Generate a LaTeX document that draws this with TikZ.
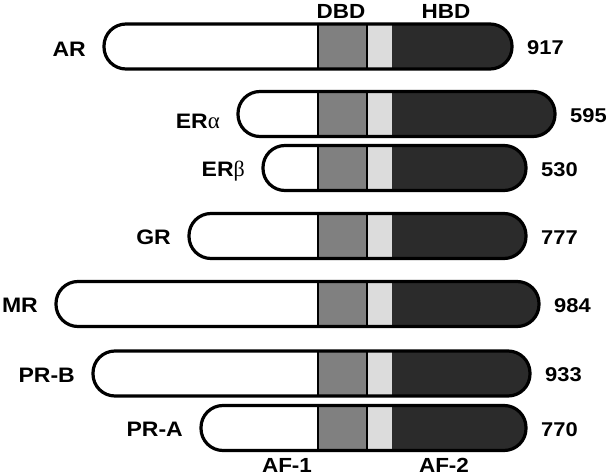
\documentclass[tikz,border=0pt]{standalone}
\usepackage{fontspec}
\setmainfont{Liberation Sans}[FakeStretch=1.1]
\newfontfamily\greekfont{Liberation Serif}
\usetikzlibrary{
	positioning		% left=... of, right=... of
}

\definecolor{dbdgray}{HTML}{808080}
\definecolor{hingegray}{HTML}{DCDCDC}
\definecolor{hbdgray}{HTML}{2B2B2B}

\begin{document}
\begin{tikzpicture}[
		x=1bp, y=-1bp,
		receptor/.style={
			draw=black,
			line width=3.2bp,
			rounded corners=22bp
		},
		divider/.style={
			draw=black,
			line width=2bp
		},
		rname/.style={
			font=\fontsize{21}{22}\selectfont\bfseries,
			inner sep=0pt,
			text height=15bp,
			text depth=0bp
		},
		rsize/.style={
			font=\fontsize{20}{22}\selectfont\bfseries,
			inner sep=0pt,
			text height=14.3bp,
			text depth=0bp
		},
		dlabel/.style={
			font=\fontsize{20.5}{22}\selectfont\bfseries,
			inner sep=0pt,
			text height=14.7bp,
			text depth=0bp
		}]

	\useasboundingbox (0,0) rectangle (606,476);

	%%% Domain headers
	\node [dlabel] (dbd) at (341,11.5) {DBD};
	\node [dlabel] (hbd) at (446,11.5) {HBD};

	%%% One bar per receptor
	\foreach \id/\txt/\xl/\xr/\ymid/\dy/\aa in {
			AR/AR/104/512/46.5/3/917,
			ERa/ER{\greekfont\mdseries\fontsize{23}{24}\selectfont α}/238/555/114/7/595,
			ERb/ER{\greekfont\mdseries\fontsize{22}{24}\selectfont β}/263/526/168/1/530,
			GR/GR/189/526/236/1/777,
			MR/MR/56/539/304/1/984,
			PRB/PR-B/93/530/373.5/1/933,
			PRA/PR-A/201/526/428/1/770} {
		% fill the domains inside the rounded outline
		\begin{scope}
			\clip [rounded corners=22bp] (\xl,\ymid-22.5) rectangle (\xr,\ymid+22.5);
			\fill [white] (\xl,\ymid-23) rectangle (318,\ymid+23);
			\fill [dbdgray] (318,\ymid-23) rectangle (367,\ymid+23);
			\fill [hingegray] (367,\ymid-23) rectangle (392,\ymid+23);
			\fill [hbdgray] (392,\ymid-23) rectangle (\xr,\ymid+23);
		\end{scope}
		\draw [divider] (318,\ymid-22.5) -- (318,\ymid+22.5);
		\draw [divider, line width=2.6bp] (367,\ymid-22.5) -- (367,\ymid+22.5);
		\draw [receptor] (\xl,\ymid-22.5) rectangle (\xr,\ymid+22.5);

		\coordinate (\id-n) at (\xl,\ymid+\dy);
		\coordinate (\id-c) at (\xr,\ymid+1);
		\node [rname, left=18bp of \id-n] (\id-name) {\txt};
		\node [rsize, right=15bp of \id-c] (\id-size) {\aa};
	};

	%%% Activation functions
	\node [dlabel] (af1) at (287,465) {AF-1};
	\node [dlabel] (af2) at (444,465) {AF-2};

\end{tikzpicture}
\end{document}
